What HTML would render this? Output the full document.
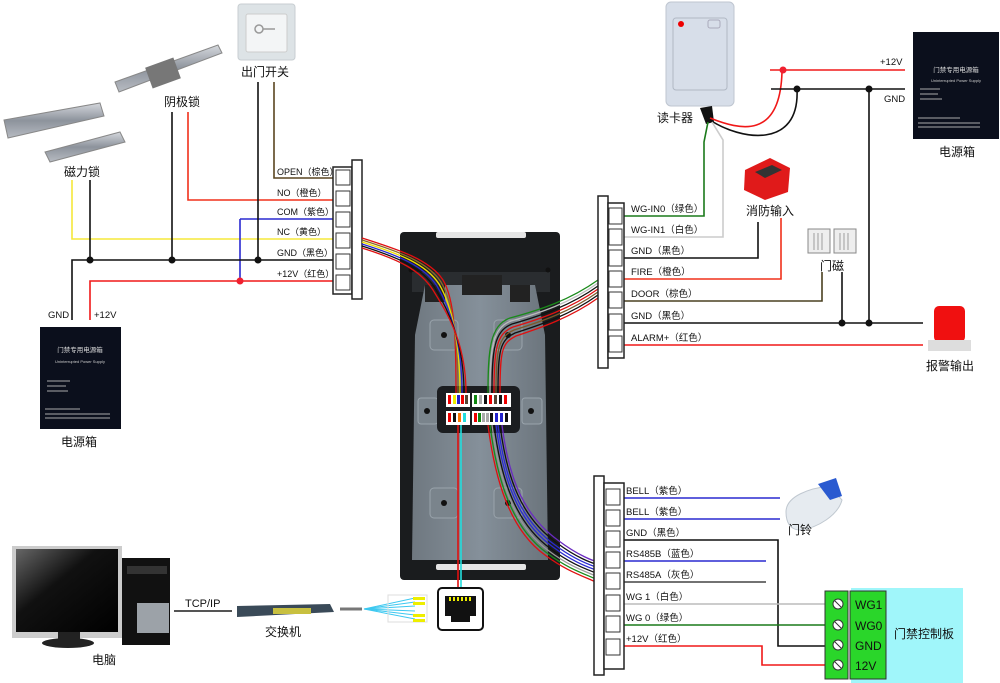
<!DOCTYPE html>
<html><head><meta charset="utf-8"><style>
html,body{margin:0;padding:0;background:#fff;}
svg{display:block;font-family:"Liberation Sans","Noto Sans CJK SC",sans-serif;}
.l{font-size:9.5px;fill:#111;}
.s{font-size:9px;fill:#111;}
.c{font-size:12px;fill:#111;text-anchor:middle;}
</style></head><body>
<svg width="1000" height="683" viewBox="0 0 1000 683" xmlns="http://www.w3.org/2000/svg">
<defs>
<linearGradient id="metal" x1="0" y1="0" x2="0" y2="1"><stop offset="0" stop-color="#d5d8dd"/><stop offset="0.5" stop-color="#8d939c"/><stop offset="1" stop-color="#b7bbc2"/></linearGradient>
<linearGradient id="plate" x1="0" y1="0" x2="1" y2="0"><stop offset="0" stop-color="#6f7880"/><stop offset="0.5" stop-color="#85909a"/><stop offset="1" stop-color="#6b747c"/></linearGradient>
<linearGradient id="scr" x1="0" y1="0" x2="1" y2="1"><stop offset="0" stop-color="#666"/><stop offset="0.4" stop-color="#111"/><stop offset="1" stop-color="#000"/></linearGradient>
</defs>

<rect x="238" y="4" width="57" height="56" rx="3" fill="#dde3e6" stroke="#c8ced2"/>
<rect x="246" y="14" width="41" height="38" rx="2" fill="#f3f5f6" stroke="#ccc"/>
<circle cx="259" cy="29" r="4" fill="none" stroke="#999" stroke-width="1.5"/>
<line x1="263" y1="29" x2="275" y2="29" stroke="#999" stroke-width="1.5"/>
<text class="c" x="265" y="76">出门开关</text>
<polygon points="115,82 218,45 222,53 119,92" fill="url(#metal)" stroke="#888"/>
<rect x="148" y="62" width="30" height="22" fill="#777" transform="rotate(-20 163 73)"/>
<text class="c" x="182" y="106">阴极锁</text>
<polygon points="4,120 100,103 104,116 8,138" fill="url(#metal)" stroke="#888"/>
<polygon points="45,152 120,132 125,142 50,162" fill="url(#metal)" stroke="#888"/>
<text class="c" x="82" y="176">磁力锁</text>

<g fill="none" stroke-width="1.6">
<path d="M274 82 V178 H333" stroke="#5a4520"/>
<path d="M188 112 V200 H333" stroke="#f0301a"/>
<path d="M72 180 V239 H333" stroke="#f5e83a"/>
<path d="M240 219 H333" stroke="#2a2ad0"/>
<path d="M240 219 V281" stroke="#2a2ad0"/>
<path d="M90 180 V260" stroke="#111"/>
<path d="M172 112 V260" stroke="#111"/>
<path d="M258 82 V260" stroke="#111"/>
<path d="M72 320 V260 H333" stroke="#111"/>
<path d="M90 320 V281 H333" stroke="#f01818"/>
</g>
<circle cx="90" cy="260" r="3.5" fill="#111"/><circle cx="172" cy="260" r="3.5" fill="#111"/><circle cx="258" cy="260" r="3.5" fill="#111"/>
<circle cx="240" cy="281" r="3.5" fill="#f02030"/>
<text class="s" x="277" y="175">OPEN（棕色）</text>
<text class="s" x="277" y="196">NO（橙色）</text>
<text class="s" x="277" y="215">COM（紫色）</text>
<text class="s" x="277" y="235">NC（黄色）</text>
<text class="s" x="277" y="256">GND（黑色）</text>
<text class="s" x="277" y="277">+12V（红色）</text>
<rect x="333" y="167" width="19" height="127" fill="#fff" stroke="#222" stroke-width="1.5"/>
<g fill="#fff" stroke="#333"><rect x="336" y="170" width="14" height="15"/><rect x="336" y="191" width="14" height="15"/><rect x="336" y="212" width="14" height="15"/><rect x="336" y="233" width="14" height="15"/><rect x="336" y="254" width="14" height="15"/><rect x="336" y="275" width="14" height="15"/></g>
<rect x="352" y="160" width="10" height="139" fill="#fff" stroke="#222" stroke-width="1.5"/>
<text class="l" x="48" y="318">GND</text><text class="l" x="94" y="318">+12V</text>
<rect x="40" y="327" width="81" height="102" fill="#0b0f1c"/>
<text x="80" y="352" font-size="6.5" fill="#ddd" text-anchor="middle">门禁专用电源箱</text>
<text x="80" y="363" font-size="4" fill="#ccc" text-anchor="middle">Uninterrupted Power Supply</text>
<g stroke="#aaa" stroke-width="1"><line x1="47" y1="381" x2="70" y2="381"/><line x1="47" y1="386" x2="66" y2="386"/><line x1="47" y1="391" x2="68" y2="391"/><line x1="45" y1="409" x2="80" y2="409"/><line x1="45" y1="414" x2="110" y2="414"/><line x1="45" y1="418" x2="110" y2="418"/></g>
<text class="c" x="79" y="446">电源箱</text>

<rect x="400" y="232" width="160" height="348" rx="4" fill="#1a1c1e"/>
<rect x="436" y="232" width="90" height="6" rx="2" fill="#e5e5e5"/>
<rect x="412" y="272" width="138" height="20" fill="#2a2d30"/>
<path d="M425 285 L535 285 L545 335 L548 560 L412 560 L415 335 Z" fill="url(#plate)"/>
<rect x="425" y="285" width="20" height="17" fill="#222"/><rect x="510" y="285" width="20" height="17" fill="#222"/>
<rect x="462" y="275" width="40" height="20" fill="#222"/>
<g fill="#7a848c" stroke="#9aa4ac"><rect x="430" y="320" width="28" height="30" rx="4"/><rect x="494" y="320" width="28" height="30" rx="4"/><rect x="430" y="488" width="28" height="30" rx="4"/><rect x="494" y="488" width="28" height="30" rx="4"/><rect x="418" y="398" width="20" height="26" rx="3"/><rect x="522" y="398" width="20" height="26" rx="3"/></g>
<g fill="#111"><circle cx="444" cy="335" r="3"/><circle cx="508" cy="335" r="3"/><circle cx="444" cy="503" r="3"/><circle cx="508" cy="503" r="3"/><circle cx="427" cy="411" r="3"/><circle cx="531" cy="411" r="3"/><circle cx="411" cy="270" r="2.5"/><circle cx="548" cy="270" r="2.5"/></g>
<rect x="436" y="564" width="90" height="6" rx="2" fill="#e5e5e5"/>
<rect x="437" y="386" width="83" height="47" rx="6" fill="#1b1d20"/>
<g fill="#fff"><rect x="446" y="393" width="24" height="14"/><rect x="472" y="393" width="39" height="14"/><rect x="446" y="411" width="24" height="14"/><rect x="472" y="411" width="39" height="14"/></g>
<g><rect x="448" y="395" width="3" height="9" fill="#e00"/><rect x="453" y="395" width="3" height="9" fill="#ee0"/><rect x="457" y="395" width="3" height="9" fill="#22c"/><rect x="461" y="395" width="3" height="9" fill="#e00"/><rect x="465" y="395" width="3" height="9" fill="#543"/>
<rect x="474" y="395" width="3" height="9" fill="#181"/><rect x="479" y="395" width="3" height="9" fill="#aaa"/><rect x="484" y="395" width="3" height="9" fill="#111"/><rect x="489" y="395" width="3" height="9" fill="#e00"/><rect x="494" y="395" width="3" height="9" fill="#543"/><rect x="499" y="395" width="3" height="9" fill="#111"/><rect x="504" y="395" width="3" height="9" fill="#e00"/>
<rect x="448" y="413" width="3" height="9" fill="#e00"/><rect x="453" y="413" width="3" height="9" fill="#111"/><rect x="458" y="413" width="3" height="9" fill="#f70"/><rect x="463" y="413" width="3" height="9" fill="#2dd"/>
<rect x="474" y="413" width="3" height="9" fill="#e00"/><rect x="478" y="413" width="3" height="9" fill="#181"/><rect x="482" y="413" width="3" height="9" fill="#aaa"/><rect x="486" y="413" width="3" height="9" fill="#aaa"/><rect x="490" y="413" width="3" height="9" fill="#111"/><rect x="495" y="413" width="3" height="9" fill="#22c"/><rect x="500" y="413" width="3" height="9" fill="#22c"/><rect x="505" y="413" width="3" height="9" fill="#111"/></g>

<g fill="none" stroke-width="1.3">
<path d="M362 238 C400 250 430 260 443 280 C455 300 456 340 456 393" stroke="#e01010"/>
<path d="M362 240 C400 252 428 262 441 282 C453 302 458 340 458 393" stroke="#8a6a2a"/>
<path d="M362 242 C400 254 426 264 439 284 C451 304 460 340 460 393" stroke="#eedd00"/>
<path d="M362 244 C400 256 424 266 437 286 C449 306 462 340 462 393" stroke="#2a2ad0"/>
<path d="M362 246 C400 258 422 268 435 288 C447 308 464 340 464 393" stroke="#111"/>
<path d="M362 248 C400 260 420 270 433 290 C445 310 466 340 466 393" stroke="#e01010"/>
<path d="M598 280 C570 300 540 310 510 318 C490 325 488 350 488 393" stroke="#1a8a1a"/>
<path d="M598 283 C570 303 540 313 511 321 C492 328 490 350 490 393" stroke="#bbb"/>
<path d="M598 286 C570 306 540 316 512 324 C494 331 492 350 492 393" stroke="#111"/>
<path d="M598 289 C570 309 540 319 513 327 C496 334 494 350 494 393" stroke="#e01010"/>
<path d="M598 292 C570 312 540 322 514 330 C498 337 496 350 496 393" stroke="#7a5a2a"/>
<path d="M598 295 C570 315 540 325 515 333 C500 340 498 350 498 393" stroke="#111"/>
<path d="M598 298 C570 318 540 328 516 336 C502 343 500 350 500 393" stroke="#e01010"/>
<path d="M488 425 C495 480 510 530 545 555 C565 570 580 575 596 582" stroke="#e01010"/>
<path d="M490 425 C497 480 512 528 547 553 C567 568 582 573 596 579" stroke="#1a8a1a"/>
<path d="M492 425 C499 480 514 526 549 551 C569 566 584 571 596 576" stroke="#999"/>
<path d="M494 425 C501 480 516 524 551 549 C571 564 586 569 596 573" stroke="#111"/>
<path d="M496 425 C503 480 518 522 553 547 C573 562 588 567 596 570" stroke="#2a2ad0"/>
<path d="M498 425 C505 480 520 520 555 545 C575 560 590 565 596 567" stroke="#2a2ad0"/>
<path d="M500 425 C507 480 522 518 557 543 C577 558 592 563 596 564" stroke="#111"/>
<path d="M502 425 C509 480 524 516 559 541 C579 556 594 561 596 561" stroke="#6a2ac0"/>
<path d="M458 425 V590" stroke="#e01010" stroke-width="1.6"/>
<path d="M461 425 V590" stroke="#2dd" stroke-width="1.6"/>
</g>

<rect x="666" y="2" width="68" height="104" rx="5" fill="#d7dee9" stroke="#bfc6d0"/>
<rect x="673" y="18" width="54" height="72" rx="3" fill="none" stroke="#b0b8c4"/>
<circle cx="681" cy="24" r="3" fill="#e00"/>
<rect x="708" y="20" width="12" height="8" rx="2" fill="none" stroke="#aab"/>
<path d="M700 108 L712 106 L714 122 L706 124 Z" fill="#111"/>
<text class="c" x="675" y="122">读卡器</text>
<g fill="none" stroke-width="1.6">
<path d="M710 118 C740 130 780 140 782 72" stroke="#f01818"/>
<path d="M710 120 C740 140 800 150 797 89" stroke="#111"/>
<path d="M770 70 H905" stroke="#f01818"/>
<path d="M771 89 H905" stroke="#111"/>
<path d="M708 122 L704 142 V216 H624" stroke="#1a7a1a"/>
<path d="M712 122 L723 140 V237 H624" stroke="#ccc"/>
<path d="M758 222 V258 H624" stroke="#111"/>
<path d="M781 218 V279 H624" stroke="#f0301a"/>
<path d="M822 272 V301 H624" stroke="#4a4020"/>
<path d="M842 272 V323" stroke="#111"/>
<path d="M869 89 V323" stroke="#111"/>
<path d="M624 323 H923" stroke="#111"/>
<path d="M624 345 H923" stroke="#f01818"/>
</g>
<circle cx="783" cy="70" r="3.5" fill="#f02030"/>
<circle cx="797" cy="89" r="3.5" fill="#111"/><circle cx="869" cy="89" r="3.5" fill="#111"/>
<circle cx="842" cy="323" r="3.5" fill="#111"/><circle cx="869" cy="323" r="3.5" fill="#111"/>
<text class="l" x="880" y="65">+12V</text><text class="l" x="884" y="102">GND</text>
<rect x="913" y="32" width="86" height="107" fill="#0b0f1c"/>
<text x="956" y="72" font-size="6.5" fill="#ddd" text-anchor="middle">门禁专用电源箱</text>
<text x="956" y="82" font-size="4" fill="#ccc" text-anchor="middle">Uninterrupted Power Supply</text>
<g stroke="#aaa" stroke-width="1"><line x1="920" y1="89" x2="940" y2="89"/><line x1="920" y1="94" x2="938" y2="94"/><line x1="920" y1="99" x2="942" y2="99"/><line x1="918" y1="118" x2="960" y2="118"/><line x1="918" y1="123" x2="980" y2="123"/><line x1="918" y1="127" x2="980" y2="127"/></g>
<text class="c" x="957" y="156">电源箱</text>
<polygon points="745,170 770,158 790,168 788,192 765,200 744,190" fill="#e01a1a"/>
<polygon points="755,172 772,165 782,170 765,178" fill="#333"/>
<text class="c" x="770" y="215">消防输入</text>
<rect x="808" y="229" width="22" height="24" fill="#eee" stroke="#888"/><rect x="834" y="229" width="22" height="24" fill="#eee" stroke="#888"/>
<g stroke="#888" stroke-width="0.8"><line x1="814" y1="233" x2="814" y2="250"/><line x1="818" y1="233" x2="818" y2="250"/><line x1="822" y1="233" x2="822" y2="250"/><line x1="840" y1="233" x2="840" y2="250"/><line x1="844" y1="233" x2="844" y2="250"/><line x1="848" y1="233" x2="848" y2="250"/></g>
<text class="c" x="832" y="270">门磁</text>
<rect x="934" y="306" width="31" height="36" rx="5" fill="#f01010"/>
<rect x="928" y="340" width="43" height="11" fill="#ddd"/>
<text class="c" x="950" y="370">报警输出</text>
<rect x="598" y="196" width="10" height="172" fill="#fff" stroke="#222" stroke-width="1.5"/>
<rect x="608" y="203" width="16" height="155" fill="#fff" stroke="#222" stroke-width="1.5"/>
<g fill="#fff" stroke="#333"><rect x="609" y="208" width="13" height="16"/><rect x="609" y="229" width="13" height="16"/><rect x="609" y="250" width="13" height="16"/><rect x="609" y="271" width="13" height="16"/><rect x="609" y="292" width="13" height="16"/><rect x="609" y="314" width="13" height="16"/><rect x="609" y="336" width="13" height="16"/></g>
<text class="l" x="631" y="212">WG-IN0（绿色）</text>
<text class="l" x="631" y="233">WG-IN1（白色）</text>
<text class="l" x="631" y="254">GND（黑色）</text>
<text class="l" x="631" y="275">FIRE（橙色）</text>
<text class="l" x="631" y="297">DOOR（棕色）</text>
<text class="l" x="631" y="319">GND（黑色）</text>
<text class="l" x="631" y="341">ALARM+（红色）</text>

<g fill="none" stroke-width="1.6">
<path d="M624 498 H780" stroke="#2a2ad0"/>
<path d="M624 519 H780" stroke="#2a2ad0"/>
<path d="M624 540 H778 V646 H826" stroke="#111"/>
<path d="M624 561 H766" stroke="#2a2ad0"/>
<path d="M624 582 H766" stroke="#444"/>
<path d="M624 604 H826" stroke="#bbb"/>
<path d="M624 625 H826" stroke="#1a7a1a"/>
<path d="M624 646 H762 V665 H826" stroke="#f01818"/>
</g>
<rect x="594" y="476" width="10" height="199" fill="#fff" stroke="#222" stroke-width="1.5"/>
<rect x="604" y="483" width="20" height="186" fill="#fff" stroke="#222" stroke-width="1.5"/>
<g fill="#fff" stroke="#333"><rect x="606" y="489" width="14" height="16"/><rect x="606" y="510" width="14" height="16"/><rect x="606" y="531" width="14" height="16"/><rect x="606" y="552" width="14" height="16"/><rect x="606" y="573" width="14" height="16"/><rect x="606" y="595" width="14" height="16"/><rect x="606" y="616" width="14" height="16"/><rect x="606" y="639" width="14" height="16"/></g>
<text class="l" x="626" y="494">BELL（紫色）</text>
<text class="l" x="626" y="515">BELL（紫色）</text>
<text class="l" x="626" y="536">GND（黑色）</text>
<text class="l" x="626" y="557">RS485B（蓝色）</text>
<text class="l" x="626" y="578">RS485A（灰色）</text>
<text class="l" x="626" y="600">WG 1（白色）</text>
<text class="l" x="626" y="621">WG 0（绿色）</text>
<text class="l" x="626" y="642">+12V（红色）</text>
<path d="M786 512 C786 496 810 488 830 486 L842 500 C838 515 818 528 800 530 C790 530 786 522 786 512 Z" fill="#e6ebf0" stroke="#c0c8d0"/>
<path d="M818 484 L836 478 L842 496 L830 500 Z" fill="#2a5ad0"/>
<text class="c" x="800" y="534">门铃</text>
<rect x="851" y="588" width="112" height="95" fill="#a0f6fa"/>
<rect x="825" y="591" width="23" height="88" fill="#2ad62a" stroke="#333"/>
<rect x="850" y="591" width="36" height="88" fill="#2ad62a" stroke="#333"/>
<g fill="#fff" stroke="#333"><circle cx="838" cy="604" r="5"/><circle cx="838" cy="625" r="5"/><circle cx="838" cy="645" r="5"/><circle cx="838" cy="665" r="5"/></g>
<g stroke="#333"><line x1="835" y1="601" x2="841" y2="607"/><line x1="835" y1="622" x2="841" y2="628"/><line x1="835" y1="642" x2="841" y2="648"/><line x1="835" y1="662" x2="841" y2="668"/></g>
<g font-size="12" fill="#111"><text x="855" y="609">WG1</text><text x="855" y="630">WG0</text><text x="855" y="650">GND</text><text x="855" y="670">12V</text></g>
<text class="c" x="924" y="638">门禁控制板</text>

<rect x="12" y="546" width="110" height="92" fill="#ccc"/>
<rect x="16" y="549" width="102" height="83" fill="url(#scr)"/>
<rect x="58" y="632" width="22" height="10" fill="#222"/>
<ellipse cx="68" cy="643" rx="26" ry="5" fill="#222"/>
<rect x="122" y="558" width="48" height="87" fill="#111"/>
<rect x="127" y="566" width="40" height="8" fill="#333"/>
<rect x="137" y="603" width="32" height="30" fill="#9ca2a8"/>
<text class="c" x="104" y="664">电脑</text>
<line x1="174" y1="611" x2="232" y2="611" stroke="#555" stroke-width="2"/>
<text x="185" y="607" font-size="11" fill="#111">TCP/IP</text>
<polygon points="237,606 330,604 334,612 237,617" fill="#3a4a58"/>
<rect x="273" y="608" width="38" height="6" fill="#c8c040"/>
<text class="c" x="283" y="636">交换机</text>
<line x1="340" y1="609" x2="362" y2="609" stroke="#777" stroke-width="3"/>
<g stroke="#3cc8f0" stroke-width="1"><line x1="364" y1="609" x2="415" y2="598"/><line x1="364" y1="609" x2="415" y2="602"/><line x1="364" y1="609" x2="415" y2="606"/><line x1="364" y1="609" x2="415" y2="611"/><line x1="364" y1="609" x2="415" y2="615"/><line x1="364" y1="609" x2="415" y2="619"/></g>
<rect x="388" y="595" width="39" height="27" fill="none" stroke="#ddd"/>
<g fill="#ee0"><rect x="413" y="597" width="12" height="3"/><rect x="413" y="602" width="12" height="3"/><rect x="413" y="614" width="12" height="3"/><rect x="413" y="619" width="12" height="3"/></g>
<rect x="438" y="588" width="45" height="42" rx="4" fill="#fff" stroke="#111" stroke-width="2"/>
<path d="M445 596 H476 V616 H470 V622 H451 V616 H445 Z" fill="#111"/>
<g fill="#ee0"><rect x="449" y="597" width="2" height="4"/><rect x="453" y="597" width="2" height="4"/><rect x="457" y="597" width="2" height="4"/><rect x="461" y="597" width="2" height="4"/><rect x="465" y="597" width="2" height="4"/><rect x="469" y="597" width="2" height="4"/></g>
</svg>
</body></html>
